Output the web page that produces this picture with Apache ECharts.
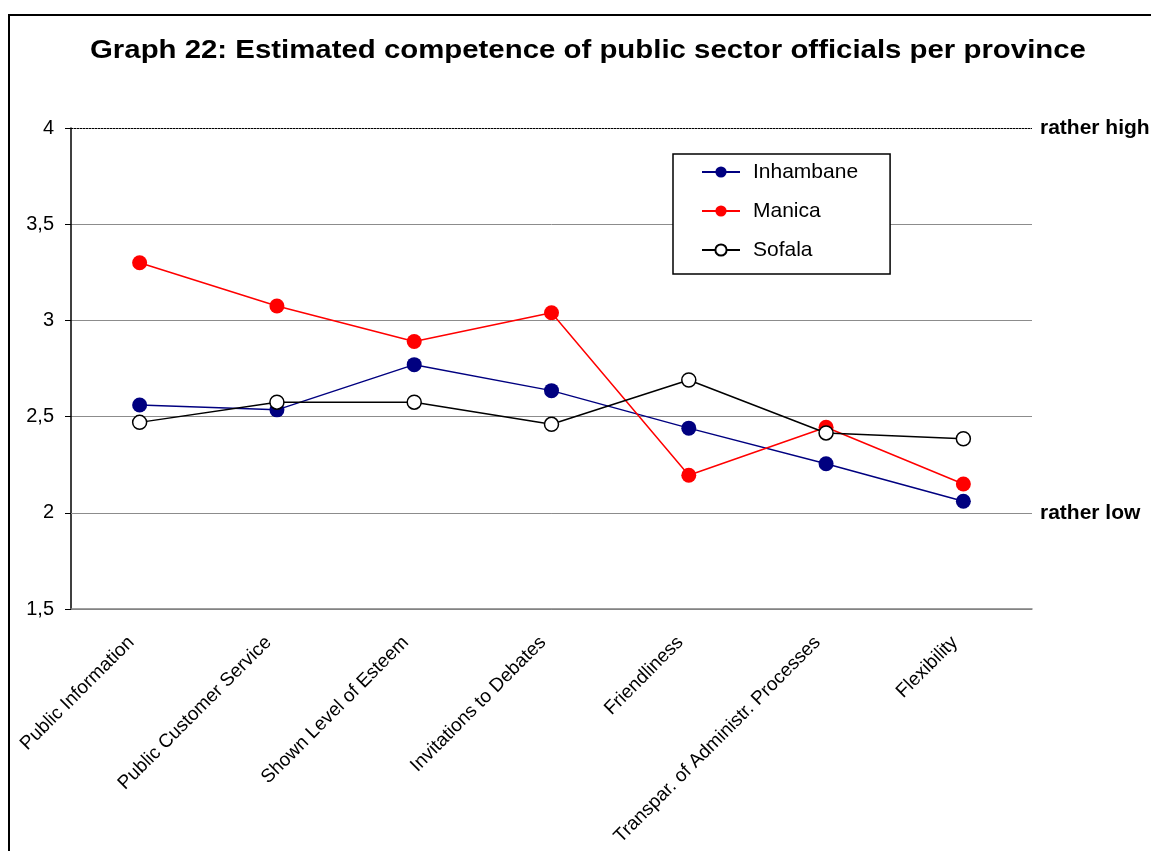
<!DOCTYPE html>
<html>
<head>
<meta charset="utf-8">
<script src="https://cdn.jsdelivr.net/npm/echarts@6/dist/echarts.min.js"></script>
<style>
  html, body { margin: 0; padding: 0; background: #fff; }
  #chart { width: 1151px; height: 851px; }
</style>
</head>
<body>
<div id="chart"></div>
<script>
  // values
  const categories = ['Public Information', 'Public Customer Service', 'Shown Level of Esteem',
    'Invitations to Debates', 'Friendliness', 'Transpar. of Administr. Processes', 'Flexibility'];
  const inhambane = [2.56, 2.535, 2.77, 2.635, 2.44, 2.255, 2.06];
  const manica = [3.30, 3.075, 2.89, 3.04, 2.195, 2.445, 2.15];
  const sofala = [2.47, 2.575, 2.575, 2.46, 2.69, 2.415, 2.385];
  const yTicks = { min: 1.5, max: 4, step: 0.5 };
  const levelMarks = [{ value: 4, label: 'rather high' }, { value: 2, label: 'rather low' }];

  const font = 'Liberation Sans, Arial, sans-serif';
  const chart = echarts.init(document.getElementById('chart'));

  chart.setOption({
    backgroundColor: '#fff',
    animation: false,
    textStyle: { fontFamily: font },
    graphic: [
      {
        type: 'rect',
        shape: { x: 9, y: 15, width: 1200, height: 900 },
        style: { fill: 'none', stroke: '#000', lineWidth: 2 },
        z: -1
      },
      {
        // title text is drawn a bit wider than normal in the original
        type: 'text',
        x: 90,
        y: 51,
        scaleX: 1.13,
        style: {
          text: 'Graph 22: Estimated competence of public sector officials per province',
          font: 'bold 26px ' + font,
          fill: '#000',
          verticalAlign: 'middle'
        }
      }
    ],
    legend: {
      orient: 'vertical',
      left: 673,
      top: 154,
      padding: [6, 32, 12, 28],
      borderColor: '#000',
      borderWidth: 1.5,
      backgroundColor: '#fff',
      itemWidth: 38,
      itemHeight: 14,
      itemGap: 15,
      textStyle: { fontFamily: font, fontSize: 21, color: '#000', lineHeight: 24, padding: [0, 0, 0, 8] },
      data: ['Inhambane', 'Manica', 'Sofala']
    },
    grid: { left: 71, right: 119, top: 128, bottom: 242 },
    xAxis: {
      type: 'category',
      data: categories,
      axisLine: { lineStyle: { color: '#808080', width: 1.5 } },
      axisTick: { length: 5, lineStyle: { color: '#808080' } },
      axisLabel: {
        rotate: 45, margin: 22, fontSize: 19, color: '#000', fontFamily: font, interval: 0,
        padding: [0, 12, 0, 0]
      }
    },
    yAxis: {
      type: 'value',
      min: yTicks.min,
      max: yTicks.max,
      interval: yTicks.step,
      axisLine: { show: true, lineStyle: { color: '#000', width: 1.5 } },
      axisTick: { show: true, length: 6, lineStyle: { color: '#000' } },
      axisLabel: {
        margin: 17, fontSize: 20, color: '#000', fontFamily: font,
        formatter: v => String(v).replace('.', ',')
      },
      splitLine: { lineStyle: { color: '#8c8c8c', width: 1 } }
    },
    series: [
      {
        name: 'Inhambane', type: 'line', data: inhambane,
        symbol: 'circle', symbolSize: 15,
        lineStyle: { color: '#000080', width: 1.5 },
        itemStyle: { color: '#000080' },
        z: 3
      },
      {
        name: 'Manica', type: 'line', data: manica,
        symbol: 'circle', symbolSize: 15,
        lineStyle: { color: '#ff0000', width: 1.5 },
        itemStyle: { color: '#ff0000' },
        z: 4
      },
      {
        name: 'Sofala', type: 'line', data: sofala,
        symbol: 'circle', symbolSize: 14,
        lineStyle: { color: '#000', width: 1.5 },
        itemStyle: { color: '#fff', borderColor: '#000', borderWidth: 1.5 },
        z: 5,
        markLine: {
          silent: true,
          symbol: ['none', 'none'],
          data: levelMarks.map((m, i) => ({
            yAxis: m.value,
            lineStyle: i === 0
              ? { color: '#000', type: [2, 1], width: 1 }
              : { color: '#8c8c8c', type: 'solid', width: 1 },
            label: {
              show: true, position: 'end', distance: 8, formatter: m.label,
              fontFamily: font, fontSize: 21, fontWeight: 'bold', color: '#000'
            }
          }))
        }
      }
    ]
  });
</script>
</body>
</html>
